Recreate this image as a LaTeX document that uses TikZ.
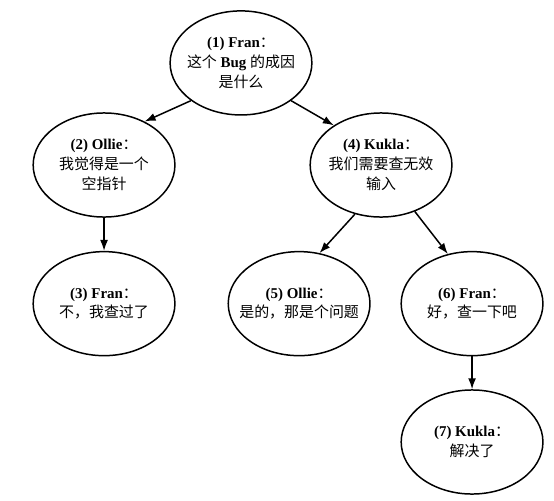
\documentclass[tikz,border=0pt]{standalone}
\usepackage{fontspec}
\setmainfont{Liberation Serif}
\newfontfamily\cjk{Noto Sans CJK SC}
\usepackage{tikz}
\usetikzlibrary{arrows.meta,shapes.geometric}

\begin{document}
\begin{tikzpicture}
				[auto=left,every node/.style={ellipse,draw,line width=1.5pt,minimum width=5cm,minimum height=3.67cm,align=center,inner xsep=-10pt,inner ysep=0pt,font=\fontsize{15}{20}\selectfont},
				edge/.style={-{Latex[length=11pt,width=8pt]},line width=1.5pt}]
				\useasboundingbox (0,0) rectangle (19.54,17.64);
				\node (n1) at (8.50,15.42) {\textbf{(1) Fran}{\cjk ：}\\{\cjk 这个} \textbf{Bug} {\cjk 的成因}\\{\cjk 是什么}};
				\node (n2) at (3.67,11.82) {\textbf{(2) Ollie}{\cjk ：}\\{\cjk 我觉得是一个}\\{\cjk 空指针}};
				\node (n4) at (13.44,11.82) {\textbf{(4) Kukla}{\cjk ：}\\{\cjk 我们需要查无效}\\{\cjk 输入}};
				\node (n3) at (3.67,6.93) {\textbf{(3) Fran}{\cjk ：}\\{\cjk 不，我查过了}};
				\node (n5) at (10.55,6.93) {\textbf{(5) Ollie}{\cjk ：}\\{\cjk 是的，那是个问题}};
				\node (n6) at (16.65,6.93) {\textbf{(6) Fran}{\cjk ：}\\{\cjk 好，查一下吧}};
				\node (n7) at (16.65,2.05) {\textbf{(7) Kukla}{\cjk ：}\\{\cjk 解决了}};

				\draw[edge] (n1.217) to (n2.47);
				\draw[edge] (n1.323) to (n4.140);
				\draw[edge] (n2) to (n3);
				\draw[edge] (n4.242) to (n5.68);
				\draw[edge] (n4.306) to (n6.116);
				\draw[edge] (n6) to (n7);
				\end{tikzpicture}
\end{document}
